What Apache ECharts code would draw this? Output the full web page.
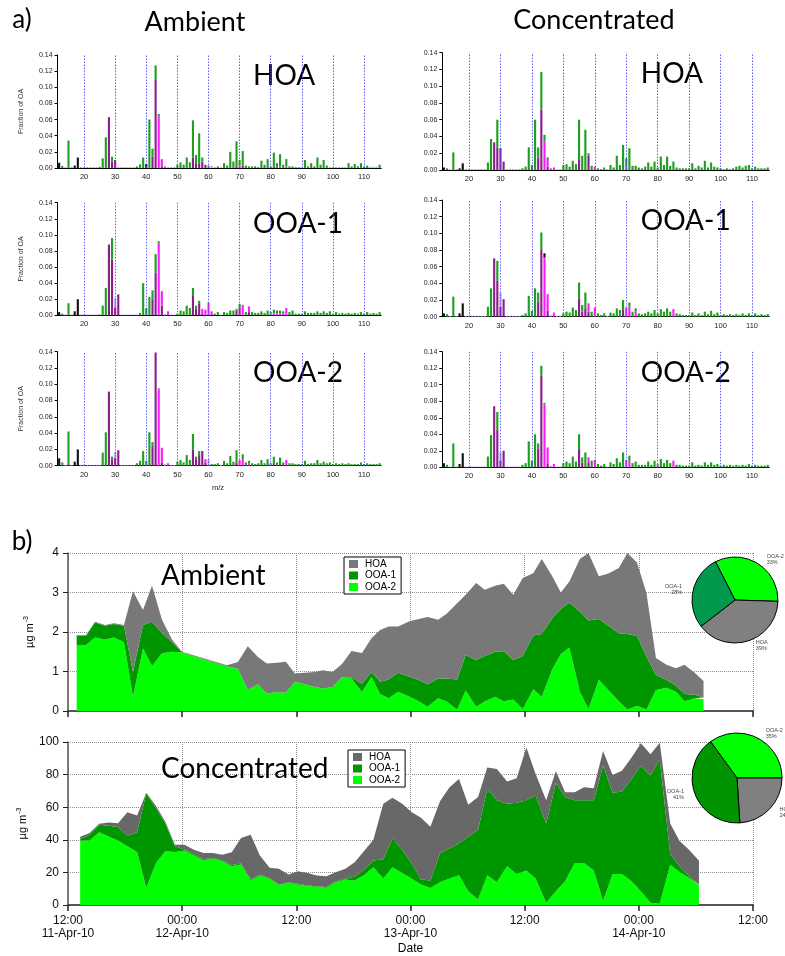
<!DOCTYPE html>
<html>
<head>
<meta charset="utf-8">
<script src="https://cdn.jsdelivr.net/npm/echarts@6/dist/echarts.min.js"></script>
<style>
  html, body { margin: 0; padding: 0; background: #fff; }
  #chart { width: 785px; height: 956px; }
</style>
</head>
<body>
<div id="chart"></div>
<script>
// ---------- a) unit-mass spectra of the PMF factors ----------
const mzMin = 12, mzMax = 115;
const mzCategories = [];
for (let m = mzMin; m <= mzMax; m++) mzCategories.push(String(m));
const mzGuideLines = ['20', '30', '40', '50', '60', '70', '80', '90', '100', '110'];

// rows: [m/z, CxHy, CxHyO1, CxHyOz>1, HO/minor, other]
const specAmbHOA = [
  [12,0,0,0,0,.0066],[13,.0025],[14,0,0,0,.001],[15,.034],[16,0,0,0,.0015],[17,0,0,0,0,.003],[18,0,0,0,0,.013],
  [19,0,0,0,.0012],[20,0,0,0,.0012],[21,0,0,0,.0012],[22,0,0,0,.0012],[23,0,0,0,.0012],[24,0,0,0,.0012],
  [25,.0015],[26,.012],[27,.038],[28,0,.063],[29,.006,.008],[30,0,.01],[31,0,0,0,.0015],
  [32,0,0,0,.0012],[33,0,0,0,.0012],[34,0,0,0,.0012],[35,0,0,0,.0012],[36,0,0,0,.0012],
  [37,.002],[38,.0045],[39,.013],[40,0,0,0,0,.005],[41,.06],[42,.01,.014],[43,.018,.109],[44,.003,0,.064],
  [45,0,.002,.009],[46,0,0,.002],[47,0,0,0,.0012],[48,0,0,0,.0012],[49,0,0,0,.0012],
  [50,.004],[51,.007],[52,.004],[53,.013],[54,.007],[55,.046,.013],[56,.011,.005],[57,.038,.005],[58,.005,.008],
  [59,0,.004],[60,0,0,.003],[61,.001,0,0,.001],[62,0,0,0,.0012],[63,.002],[64,0,0,0,.001],[65,.006],[66,.003],
  [67,.02],[68,.008],[69,.031,.002],[70,.007,0,.003],[71,.018,.003],[72,.003],[73,.002],[74,.002],[75,.002],
  [76,.001],[77,.009],[78,.004],[79,.011],[80,.002],[81,.017,.002],[82,.006],[83,.015,0,.002],[84,.004],
  [85,.009,0,.002],[86,.002],[87,.002],[88,.001],[89,.001],[90,0,0,0,.001],[91,.01],[92,.002],[93,.006],
  [94,.002],[95,.013],[96,.004],[97,.01],[98,.003],[99,0,0,0,.0012],[100,0,0,0,.0012],[101,0,0,0,.0012],
  [102,0,0,0,.0012],[103,0,0,0,.0012],[104,0,0,0,.0012],[105,.006],[106,.002],[107,.005],[108,.002],
  [109,.006],[110,.002],[111,.003],[112,0,0,0,.0015],[113,0,0,0,.0015],[114,0,0,0,.0015],[115,.004]
];
const specAmbOOA1 = [
  [12,0,0,0,0,.004],[13,.002],[14,0,0,0,.001],[15,.015],[16,0,0,0,.0012],[17,0,0,0,0,.005],[18,0,0,0,0,.02],
  [19,0,0,0,.001],[20,0,0,0,.001],[21,0,0,0,.001],[22,0,0,0,.001],[23,0,0,0,.001],[24,0,0,0,.001],
  [25,.001],[26,.012],[27,.034],[28,0,.088],[29,.027,.069],[30,0,.01,0,.011],[31,0,.026],
  [32,0,0,0,.001],[33,0,0,0,.001],[34,0,0,0,.001],[35,0,0,0,.001],[36,0,0,0,.001],[37,0,0,0,.001],
  [38,.003],[39,.04],[40,.009],[41,.023],[42,.011,.02],[43,.023,.053],[44,.003,0,.089],[45,0,.012,.018],
  [46,0,0,0,.0015],[47,0,0,.005],[48,0,0,0,.001],[49,0,0,0,.001],
  [50,.002],[51,.006],[52,.005],[53,.012],[54,.009],[55,.009,.025],[56,.004,.008],[57,.003,.015],[58,0,.002,.006],
  [59,0,0,.007],[60,0,0,.016],[61,0,0,.005],[62,.002],[63,.004],[64,0,0,0,.001],[65,.004],[66,.003],[67,.006],
  [68,.006],[69,.002,.006],[70,.004,.01],[71,0,0,.013],[72,.004],[73,0,.004,.007],[74,.004],[75,.003],[76,.003],
  [77,.005],[78,.003],[79,.006],[80,.002,0,.002],[81,.005,0,.002],[82,.004,0,.002],[83,.004,0,.002],
  [84,.003,0,.002],[85,0,0,.009],[86,.004],[87,.006],[88,.002],[89,.002],[90,.002],[91,.005],[92,.003],
  [93,.003],[94,.003],[95,.005],[96,.003],[97,.005],[98,.003],[99,.005],[100,.002],[101,.004],[102,.002],
  [103,.003],[104,.002],[105,.003],[106,.002],[107,.003],[108,.002],[109,.004],[110,.002],[111,.004],
  [112,.002],[113,.003],[114,.002],[115,.004]
];
const specAmbOOA2 = [
  [12,0,0,0,0,.009],[13,.004],[14,0,0,0,.001],[15,.042],[16,0,0,0,.001],[17,0,0,0,0,.005],[18,0,0,0,0,.02],
  [19,0,0,0,.001],[20,0,0,0,.001],[21,0,0,0,.001],[22,0,0,0,.001],[23,0,0,0,.001],[24,0,0,0,.001],[25,0,0,0,.001],
  [26,.016],[27,.041],[28,0,.091],[29,.004,.007],[30,0,.01,0,.007],[31,0,.019],
  [32,0,0,0,.001],[33,0,0,0,.001],[34,0,0,0,.001],[35,0,0,0,.001],[36,0,0,0,.001],
  [37,.003],[38,.006],[39,.018],[40,.006],[41,.041],[42,.005,.024],[43,0,.139],[44,.001,0,.094],[45,0,.004,.018],
  [46,0,0,0,.002],[47,0,0,.003],[48,0,0,0,.001],[49,0,0,0,.001],
  [50,.005],[51,.007],[52,.004],[53,.013],[54,.007],[55,.019,.02],[56,.004,.007],[57,.005,.013],[58,0,.018],
  [59,0,.004,.004],[60,0,0,0,.008],[61,.002],[62,.002],[63,.003],[64,0,0,0,.001],[65,.006],[66,.003],[67,.012],
  [68,.005],[69,.015,.004],[70,0,0,.007],[71,.006,0,.008],[72,.004],[73,.003,0,.003],[74,.003],[75,.002],
  [76,.003],[77,.007],[78,.003],[79,.008],[80,.001,0,.002],[81,.009,.002],[82,.004],[83,.008,.002],[84,.004],
  [85,0,0,.007],[86,.003],[87,.003],[88,.002],[89,.002],[90,.002],[91,.006],[92,.002],[93,.003],[94,.003],
  [95,.007],[96,.003],[97,.005],[98,.003],[99,.004],[100,.002],[101,.003],[102,.002],[103,.003],[104,.002],
  [105,.003],[106,.002],[107,.002],[108,.002],[109,.004],[110,.002],[111,.003],[112,.002],[113,.002],
  [114,.002],[115,.003]
];
const specConcHOA = [
  [12,0,0,0,0,.003],[13,.002],[14,0,0,0,.001],[15,.021],[16,0,0,0,.001],[17,0,0,0,0,.002],[18,0,0,0,0,.008],
  [19,0,0,0,.0012],[20,0,0,0,.0012],[21,0,0,0,.0012],[22,0,0,0,.0012],[23,0,0,0,.0012],[24,0,0,0,.0012],[25,0,0,0,.0012],
  [26,.009],[27,.037],[28,0,.033],[29,.033,.027],[30,0,.026],[31,0,.01],
  [32,0,0,0,.0012],[33,0,0,0,.0012],[34,0,0,0,.0012],[35,0,0,0,.0012],[36,0,0,0,.0012],
  [37,.002],[38,.004],[39,.027],[40,.006],[41,.06],[42,.012,.015],[43,.045,.072],[44,.008,0,.034],
  [45,.003,.004,.008],[46,0,0,.002],[47,0,0,.003],[48,0,0,0,.001],[49,0,0,0,.001],
  [50,.006],[51,.007],[52,.004],[53,.011],[54,.007],[55,.048,.012],[56,.017],[57,.048],[58,.003,.017],[59,.005],
  [60,0,0,.004],[61,.002],[62,.001],[63,.003],[64,0,0,0,.001],[65,.006],[66,.003],[67,.017],[68,.006],[69,.03],
  [70,.01,0,.004],[71,.026],[72,.005],[73,.005],[74,.003],[75,.002],[76,.004],[77,.009],[78,.004],[79,.01],
  [80,.003],[81,.016],[82,.006],[83,.016],[84,.005],[85,.01],[86,.003],[87,.002],[88,.002],[89,.002],[90,.002],
  [91,.008],[92,.002],[93,.005],[94,.003],[95,.011],[96,.003],[97,.009],[98,.004],[99,.003],[100,.002],
  [101,.001],[102,.002],[103,.001],[104,.002],[105,.004],[106,.005],[107,.003],[108,.005],[109,.006],
  [110,.002],[111,.004],[112,.002],[113,.002],[114,.002],[115,.003]
];
const specConcOOA1 = [
  [12,0,0,0,0,.004],[13,.003],[14,0,0,0,.001],[15,.024],[16,0,0,0,.001],[17,0,0,0,0,.004],[18,0,0,0,0,.016],
  [19,0,0,0,.001],[20,0,0,0,.001],[21,0,0,0,.001],[22,0,0,0,.001],[23,0,0,0,.001],[24,0,0,0,.001],[25,0,0,0,.001],
  [26,.012],[27,.034],[28,0,.07],[29,.024,.043],[30,0,.012,0,.017],[31,0,.021],
  [32,0,0,0,.001],[33,0,0,0,.001],[34,0,0,0,.001],[35,0,0,0,.001],[36,0,0,0,.001],
  [37,.002],[38,.004],[39,.025],[40,.007],[41,.034],[42,.011,.018],[43,.021,.08],[44,0,0,.071,0,.005],
  [45,0,.007,.02],[46,0,0,0,.002],[47,0,0,.005],[48,0,0,0,.001],[49,0,0,0,.001],
  [50,.004],[51,.006],[52,.005],[53,.011],[54,.008],[55,.019,.022],[56,.008,.006],[57,.019,.01],[58,0,.006,.01],
  [59,.006],[60,0,0,.011],[61,.004],[62,.002],[63,.004],[64,0,0,0,.001],[65,.005],[66,.004],[67,.01],[68,.008],
  [69,.012,.008],[70,0,0,.011],[71,.005,0,.012],[72,.006],[73,.004,0,.006],[74,.004],[75,.003],[76,.004],
  [77,.006],[78,.004],[79,.008],[80,.004],[81,.009],[82,.006],[83,.01],[84,.006],[85,0,0,.009],[86,.004],
  [87,.003],[88,.002],[89,.002],[90,.002],[91,.005],[92,.002],[93,.004],[94,.002],[95,.006],[96,.003],
  [97,.007],[98,.003],[99,.005],[100,.002],[101,.003],[102,.002],[103,.003],[104,.002],[105,.003],[106,.002],
  [107,.004],[108,.002],[109,.004],[110,.002],[111,.004],[112,.002],[113,.003],[114,.002],[115,.003]
];
const specConcOOA2 = [
  [12,0,0,0,0,.005],[13,.003],[14,0,0,0,.001],[15,.029],[16,0,0,0,.001],[17,0,0,0,0,.004],[18,0,0,0,0,.017],
  [19,0,0,0,.001],[20,0,0,0,.001],[21,0,0,0,.001],[22,0,0,0,.001],[23,0,0,0,.001],[24,0,0,0,.001],[25,0,0,0,.001],
  [26,.013],[27,.039],[28,0,.074],[29,.022,.045],[30,0,.008,0,.01],[31,0,.02],
  [32,0,0,0,.001],[33,0,0,0,.001],[34,0,0,0,.001],[35,0,0,0,.001],[36,0,0,0,.001],
  [37,.003],[38,.005],[39,.03,0,0,0,.001],[40,.008],[41,.04],[42,.006,.023],[43,.012,.111],[44,.002,0,.076],
  [45,0,.004,.02],[46,0,0,0,.002],[47,0,0,.004],[48,0,0,0,.001],[49,0,0,0,.001],
  [50,.005],[51,.007],[52,.005],[53,.013],[54,.007],[55,.018,.022],[56,.006,.006],[57,.018],[58,0,.006,.006],
  [59,.008],[60,0,0,.009],[61,.004],[62,.002],[63,.004],[64,0,0,0,.001],[65,.006],[66,.004],[67,.011],[68,.006],
  [69,.018],[70,0,0,.009],[71,.006,0,.008],[72,.005],[73,.007],[74,.003],[75,.003],[76,.003],[77,.007],
  [78,.003],[79,.008],[80,.001,0,.003],[81,.01],[82,.005],[83,.009],[84,.005],[85,0,0,.008],[86,.003],
  [87,.003],[88,.002],[89,.002],[90,.002],[91,.006],[92,.002],[93,.003],[94,.002],[95,.006],[96,.003],
  [97,.006],[98,.003],[99,.004],[100,.002],[101,.003],[102,.002],[103,.003],[104,.002],[105,.003],[106,.002],
  [107,.003],[108,.002],[109,.004],[110,.002],[111,.003],[112,.002],[113,.002],[114,.002],[115,.003]
];

// ---------- b) factor time series (hours after 11-Apr-10 12:00), µg m-3 ----------
const timeTickLabels = ['12:00\n11-Apr-10', '00:00\n12-Apr-10', '12:00', '00:00\n13-Apr-10', '12:00', '00:00\n14-Apr-10', '12:00'];

const ambHours = [0.91,1.89,2.84,3.89,4.83,5.88,6.83,7.88,8.83,9.88,10.93,11.98,16.7,17.86,18.9,19.96,20.9,21.96,22.9,
  23.85,24.9,25.95,26.8,27.8,28.8,29.8,30.9,31.9,32.8,33.7,34.7,35.9,36.9,37.8,38.9,39.8,40.9,41.8,42.9,43.8,44.9,
  45.8,46.8,47.8,48.9,49.8,50.9,51.8,52.7,53.8,54.7,55.8,56.8,57.9,58.8,59.8,60.8,61.8,62.9,63.9,64.8,65.9,66.8];
const ambOOA2 = [1.67,1.67,1.86,1.81,1.86,1.75,0.36,1.58,1.14,1.46,1.50,1.48,1.12,1.07,0.53,0.68,0.44,0.48,0.46,
  0.74,0.68,0.61,0.57,0.61,0.86,0.82,0.48,0.86,0.43,0.32,0.49,0.36,0.24,0.11,0.32,0.24,0.03,0.52,0.11,0.24,0.36,
  0.25,0.29,0.05,0.55,0.36,1.06,1.44,1.61,0.49,0.05,0.79,0.53,0.25,0.04,0.13,0.04,0.53,0.59,0.49,0.25,0.32,0.30];
const ambOOA1 = [0.23,0.23,0.38,0.35,0.34,0.41,0.63,0.60,1.12,0.51,0.25,0.01,0.01,0,0,0,0,0,0,
  0,0,0,0,0,0,0.03,0.21,0.13,0.31,0.48,0.48,0.51,0.54,0.57,0.50,0.58,0.77,0.90,1.18,1.15,1.14,
  1.26,1.00,1.34,1.36,1.59,1.29,1.14,1.14,2.03,2.24,1.54,1.63,1.72,1.91,1.77,1.34,0.38,0.20,0.15,0.18,0.09,0.04];
const ambHOA = [0.02,0.02,0.02,0.02,0.02,0.02,2.04,0.38,0.91,0.34,0.06,0.01,0.03,0.17,1.11,0.69,0.76,0.74,0.79,
  0.21,0.29,0.38,0.46,0.38,0.33,0.67,0.78,0.85,1.31,1.34,1.17,1.40,1.55,1.70,1.49,1.64,1.93,1.52,1.95,1.68,1.67,
  1.71,1.65,1.98,1.58,1.90,1.06,0.42,0.53,1.33,1.71,1.08,1.32,1.65,2.05,1.86,1.61,0.43,0.38,0.44,0.74,0.55,0.42];

const concHours = [1.28,2.26,3.28,4.25,5.26,6.24,7.26,8.23,9.25,10.22,11.24,12.25,13.23,14.25,15.22,16.23,17.21,18.19,
  19.2,20.17,21.19,22.16,23.18,24.15,25.18,26.14,27.16,28.14,29.16,30.13,31.1,32.1,33.14,34.1,35.13,36.1,37.1,38.09,
  39.1,40.1,41.1,42.07,43.1,44.07,45.08,46.15,47.16,48.18,49.15,50.26,51.28,52.25,53.26,54.24,55.26,56.24,57.24,
  58.22,59.24,60.22,61.23,62.2,63.3,64.28,65.3,66.32];
const concOOA2 = [39.6,39.6,44.7,42.1,39.6,36.0,32.5,10.6,25.8,32.9,32.5,33.5,30.5,27.4,28.5,26.8,23.8,24.8,
  15.2,18.1,16.1,12.2,13.6,12.6,11.6,11.2,10.6,14.0,15.7,15.0,18.3,23.1,16.2,23.1,19.6,16.2,12.6,10.5,
  14.0,16.2,18.2,8.5,3.4,18.2,14.0,23.7,19.0,21.1,16.2,1.4,8.5,14.6,25.7,25.7,21.1,2.4,19.0,
  19.0,14.6,8.5,1.4,0.8,24.7,20.2,16.6,12.1];
const concOOA1 = [0.9,3.5,4.5,6.5,8.2,6.5,12.2,57.9,33.5,17.3,3.5,0.5,1.0,0.6,0.5,0.5,0.7,0.7,
  0.8,0.5,0.5,0.3,0.4,0.4,0.4,0.3,0.4,0.4,0.5,2.3,3.4,4.2,11.9,17.8,14.2,9.5,3.0,4.5,
  17.8,18.6,19.7,33.4,42.6,53.1,50.2,38.4,43.8,43.1,51.0,48.6,66.4,51.6,38.5,38.5,43.1,83.0,49.8,
  50.6,62.7,76.9,78.0,88.3,6.5,3.5,1.0,0.3];
const concHOA = [1.4,1.0,0.6,2.0,2.4,14.4,10.2,0.4,1.5,1.0,1.0,3.0,2.4,3.9,2.9,3.6,7.8,15.6,
  27.1,11.7,6.2,9.7,4.7,7.7,7.7,6.6,6.7,5.7,6.0,8.9,11.2,12.7,34.0,24.9,28.3,31.3,38.0,33.0,
  31.8,37.5,39.4,19.6,20.2,13.1,19.2,13.6,14.9,32.4,13.2,14.2,7.1,3.0,5.0,8.1,7.5,9.1,11.0,
  12.8,13.2,13.8,13.1,10.5,18.8,15.6,16.2,14.7];

// campaign-average factor contributions (%)
const pieNames = ['OOA-2', 'HOA', 'OOA-1'];
const ambPieShare = [33, 39, 28];
const concPieShare = [35, 24, 41];

// ---------- styling ----------
const AX_FONT = '"Liberation Sans", Arial, sans-serif';
const BIG_FONT = 'Lato, "Open Sans", sans-serif';
const famColors = { ch: '#1f9e1f', cho1: '#8c1d8c', chogt1: '#ff1aff', minor: '#b7a2e6', other: '#111111' };
// stacking order (bottom to top) and the row column each family is read from
const famOrder = [['cho1', 2], ['chogt1', 3], ['minor', 4], ['ch', 1], ['other', 5]];

function familyColumn(rows, col) {
  const out = mzCategories.map(() => 0);
  rows.forEach(r => { if (r[col]) out[r[0] - mzMin] = r[col]; });
  return out;
}
const tenth = (idx, val) => (+val) % 10 === 0;

const panels = [
  { rows: specAmbHOA,   label: 'HOA',   grid: { left: 57.6,  top: 55,    width: 323.6, height: 113 },   yName: true },
  { rows: specAmbOOA1,  label: 'OOA-1', grid: { left: 57.6,  top: 202.7, width: 323.6, height: 112.6 }, yName: true },
  { rows: specAmbOOA2,  label: 'OOA-2', grid: { left: 57.6,  top: 351.7, width: 323.6, height: 114 },   yName: true },
  { rows: specConcHOA,  label: 'HOA',   grid: { left: 442.3, top: 52.7,  width: 327,   height: 117.3 }, yName: false },
  { rows: specConcOOA1, label: 'OOA-1', grid: { left: 442.3, top: 200,   width: 327,   height: 116.7 }, yName: false },
  { rows: specConcOOA2, label: 'OOA-2', grid: { left: 442.3, top: 351.7, width: 327,   height: 115.6 }, yName: false }
];

const grids = [], xAxes = [], yAxes = [], series = [], graphics = [];

panels.forEach((p, i) => {
  grids.push(p.grid);
  xAxes.push({
    type: 'category', gridIndex: i, data: mzCategories,
    axisLine: { lineStyle: { color: '#000', width: 1 } },
    axisTick: { alignWithLabel: true, interval: tenth, length: 6, lineStyle: { color: '#000' } },
    axisLabel: { interval: tenth, fontSize: 7.5, fontFamily: AX_FONT, color: '#222', margin: 5 },
    splitLine: { show: false }
  });
  yAxes.push({
    type: 'value', gridIndex: i, min: 0, max: 0.14, interval: 0.02,
    name: p.yName ? 'Fraction of OA' : '', nameLocation: 'middle', nameGap: 33,
    nameTextStyle: { fontSize: 7, fontFamily: AX_FONT, color: '#333' },
    axisLine: { show: true, lineStyle: { color: '#000', width: 1 } },
    axisTick: { show: true, length: 3, lineStyle: { color: '#000' } },
    axisLabel: { fontSize: 7, fontFamily: AX_FONT, color: '#222', margin: 5, formatter: v => v.toFixed(2) },
    splitLine: { show: false }
  });
  famOrder.forEach(([fam, col], k) => {
    const s = {
      type: 'bar', name: fam, xAxisIndex: i, yAxisIndex: i, stack: 'spec' + i,
      barWidth: '68%', data: familyColumn(p.rows, col),
      itemStyle: { color: famColors[fam] }, silent: true
    };
    if (k === 0) {
      s.markLine = {
        silent: true, symbol: ['none', 'none'], label: { show: false },
        lineStyle: { color: '#4d4dff', type: [1.5, 1.5], width: 1, opacity: 0.9 },
        data: mzGuideLines.map(m => ({ xAxis: m }))
      };
    }
    series.push(s);
  });
  graphics.push({
    type: 'text', x: p.grid.left + (i < 3 ? 195.5 : 198.5), y: p.grid.top + 21,
    style: { text: p.label, fontSize: 28, fontFamily: BIG_FONT, fill: '#000',
             align: 'left', verticalAlign: 'middle', textAlign: 'left', textVerticalAlign: 'middle' }
  });
});

// ---------- b) stacked-area time series ----------
const tsPanels = [
  { grid: { left: 68, top: 553, width: 685, height: 158 }, max: 4, interval: 1, labels: false,
    hours: ambHours, vals: [ambOOA2, ambOOA1, ambHOA], hoaColor: '#787878',
    pie: { center: [735, 600], r: 43, start: 117, share: ambPieShare, ooa1: '#00994d' },
    legend: { left: 344, top: 557 } },
  { grid: { left: 68, top: 742, width: 685, height: 164 }, max: 100, interval: 20, labels: true,
    hours: concHours, vals: [concOOA2, concOOA1, concHOA], hoaColor: '#686868',
    pie: { center: [737, 778], r: 45, start: 126, share: concPieShare, ooa1: '#009400' },
    legend: { left: 348, top: 750 } }
];
const tsNames = ['OOA-2', 'OOA-1', 'HOA'];
const legends = [];

tsPanels.forEach((t, j) => {
  const gi = grids.length;
  grids.push(t.grid);
  xAxes.push({
    type: 'value', gridIndex: gi, min: 0, max: 72, interval: 12,
    name: t.labels ? 'Date' : '', nameLocation: 'middle', nameGap: 38,
    nameTextStyle: { fontSize: 12, fontFamily: AX_FONT, color: '#000' },
    axisLine: { lineStyle: { color: '#555', width: 2 } },
    axisTick: { show: true, length: 6, lineStyle: { color: '#222', width: 1.5 } },
    axisLabel: { show: t.labels, fontSize: 12, lineHeight: 13, fontFamily: AX_FONT, color: '#111', margin: 9,
                 formatter: v => timeTickLabels[Math.round(v / 12)] },
    splitLine: { show: true, lineStyle: { color: '#8a8a8a', type: 'dotted', width: 1 } }
  });
  yAxes.push({
    type: 'value', gridIndex: gi, min: 0, max: t.max, interval: t.interval,
    name: 'µg m{s|-3}', nameLocation: 'middle', nameGap: 31,
    nameTextStyle: { fontSize: 11, fontFamily: AX_FONT, color: '#000',
      rich: { s: { fontSize: 7, fontFamily: AX_FONT, verticalAlign: 'top', padding: [0, 0, 7, 1] } } },
    axisLine: { show: true, lineStyle: { color: '#555', width: 1.5 } },
    axisTick: { show: true, length: 5, lineStyle: { color: '#222' } },
    axisLabel: { fontSize: 12, fontFamily: AX_FONT, color: '#111', margin: 9 },
    splitLine: { show: true, lineStyle: { color: '#8a8a8a', type: 'dotted', width: 1 } }
  });
  const colors = ['#00ff00', '#009600', t.hoaColor];
  tsNames.forEach((nm, k) => {
    // concentration is stored first so that it is the stacked dimension; time maps to x
    series.push({
      type: 'line', name: nm, xAxisIndex: gi, yAxisIndex: gi, stack: 'ts' + j,
      encode: { x: 1, y: 0 },
      symbol: 'none', lineStyle: { width: 0 }, silent: true,
      areaStyle: { color: colors[k], opacity: 1 }, itemStyle: { color: colors[k] },
      data: t.hours.map((h, n) => [t.vals[k][n], h])
    });
  });
  legends.push({
    left: t.legend.left, top: t.legend.top, orient: 'vertical', icon: 'rect',
    itemWidth: 9, itemHeight: 8, itemGap: 1.5, padding: [2, 5, 2, 5],
    borderColor: '#000', borderWidth: 1, backgroundColor: '#fff', selectedMode: false,
    textStyle: { fontSize: 10, fontFamily: AX_FONT, color: '#000', padding: [0, 0, 0, 2] },
    data: [
      { name: 'HOA', itemStyle: { color: t.hoaColor } },
      { name: 'OOA-1', itemStyle: { color: '#009600' } },
      { name: 'OOA-2', itemStyle: { color: '#00ff00' } }
    ]
  });
  const pieColors = { 'OOA-2': '#00ff00', 'HOA': '#808080', 'OOA-1': t.pie.ooa1 };
  series.push({
    type: 'pie', center: t.pie.center, radius: t.pie.r, startAngle: t.pie.start, clockwise: true,
    silent: true, avoidLabelOverlap: false, z: 5,
    itemStyle: { borderColor: '#000', borderWidth: 1 },
    label: { show: true, position: 'outside', formatter: '{b}\n{c}%', fontSize: 5.5, lineHeight: 6,
             fontFamily: AX_FONT, color: '#444' },
    labelLine: { show: false, length: 5, length2: 1 },
    data: pieNames.map((nm, n) => ({ name: nm, value: t.pie.share[n], itemStyle: { color: pieColors[nm] } }))
  });
});

function txt(x, y, text, size, align) {
  return { type: 'text', x, y, z: 10,
    style: { text, fontSize: size, fontFamily: BIG_FONT, fill: '#000',
             align: align || 'center', verticalAlign: 'middle',
             textAlign: align || 'center', textVerticalAlign: 'middle' } };
}
graphics.push(
  txt(22, 20, 'a)', 26),
  txt(195, 22, 'Ambient', 27),
  txt(594, 20, 'Concentrated', 27),
  txt(22, 542, 'b)', 26),
  txt(161, 576, 'Ambient', 28, 'left'),
  txt(161, 769, 'Concentrated', 28, 'left'),
  { type: 'text', x: 218, y: 488, style: { text: 'm/z', fontSize: 7.5, fontFamily: AX_FONT, fill: '#222',
      align: 'center', verticalAlign: 'middle', textAlign: 'center', textVerticalAlign: 'middle' } }
);

const chart = echarts.init(document.getElementById('chart'), null, { renderer: 'canvas' });
chart.setOption({
  animation: false,
  backgroundColor: '#fff',
  grid: grids,
  xAxis: xAxes,
  yAxis: yAxes,
  legend: legends,
  series: series,
  graphic: graphics
});
</script>
</body>
</html>
